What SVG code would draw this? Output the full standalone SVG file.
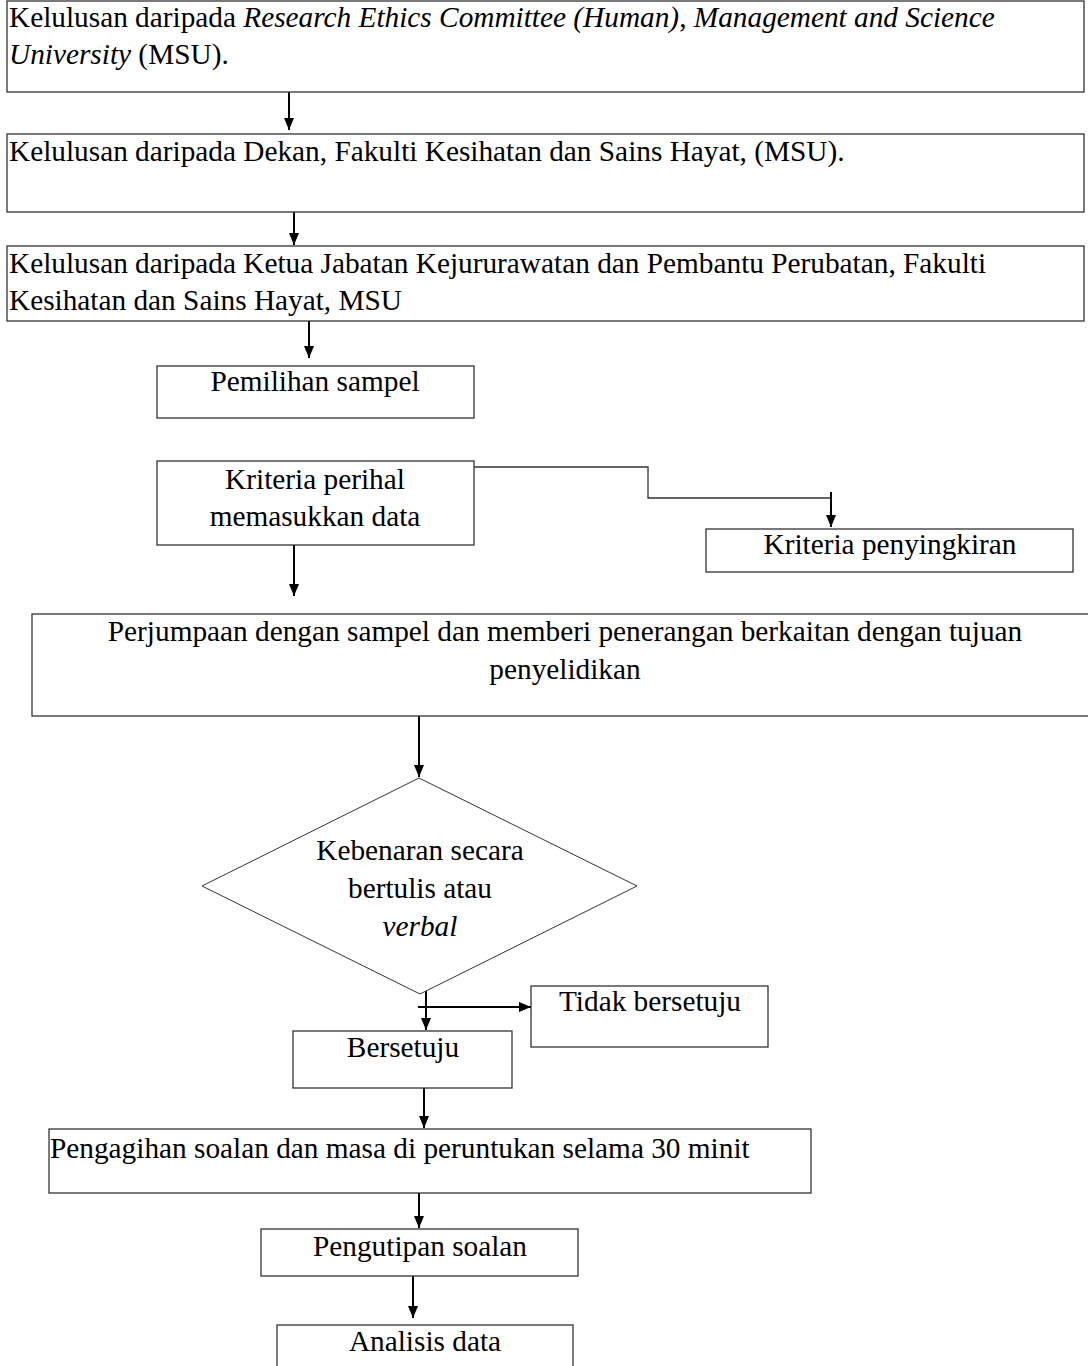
<svg xmlns="http://www.w3.org/2000/svg" width="1088" height="1366" viewBox="0 0 1088 1366">
<defs>
<marker id="ah" markerUnits="userSpaceOnUse" markerWidth="12" markerHeight="14" refX="12" refY="5" orient="auto">
<path d="M0,0 L12,5 L0,10 Z" fill="#000"/>
</marker>
<style>
.box{fill:#fff;stroke:#333;stroke-width:1.3}
.t{font-family:"Liberation Serif","Times New Roman",serif;font-size:29.3px;fill:#000}
.c{text-anchor:middle}
.i{font-style:italic}
.ln{fill:none;stroke:#000;stroke-width:2}
.thin{fill:none;stroke:#333;stroke-width:1.3}
</style>
</defs>
<rect width="1088" height="1366" fill="#fff"/>

<g id="connectors">
<line class="ln" x1="289" y1="92" x2="289" y2="130" marker-end="url(#ah)"/>
<line class="ln" x1="294" y1="207" x2="294" y2="245" marker-end="url(#ah)"/>
<line class="ln" x1="309" y1="321" x2="309" y2="358" marker-end="url(#ah)"/>
<polyline class="thin" points="468,467 648,467 648,498 831,498"/>
<line class="ln" x1="831" y1="492" x2="831" y2="527" marker-end="url(#ah)"/>
<line class="ln" x1="294" y1="545" x2="294" y2="596" marker-end="url(#ah)"/>
<line class="ln" x1="419" y1="716" x2="419" y2="777" marker-end="url(#ah)"/>
<line class="ln" x1="426" y1="982" x2="426" y2="1030" marker-end="url(#ah)"/>
<line class="ln" x1="418" y1="1007" x2="531" y2="1007" marker-end="url(#ah)"/>
<line class="ln" x1="424" y1="1088" x2="424" y2="1128" marker-end="url(#ah)"/>
<line class="ln" x1="419" y1="1193" x2="419" y2="1228" marker-end="url(#ah)"/>
<line class="ln" x1="413" y1="1276" x2="413" y2="1318" marker-end="url(#ah)"/>
</g>

<g id="n1">
<rect class="box" x="7" y="1" width="1077" height="91"/>
<text class="t" x="9" y="27">Kelulusan daripada <tspan class="i">Research Ethics Committee (Human)</tspan>, <tspan class="i">Management and Science</tspan></text>
<text class="t" x="9" y="64"><tspan class="i">University</tspan> (MSU).</text>
</g>

<g id="n2">
<rect class="box" x="7" y="134" width="1077" height="78"/>
<text class="t" x="9" y="161">Kelulusan daripada Dekan, Fakulti Kesihatan dan Sains Hayat, (MSU).</text>
</g>

<g id="n3">
<rect class="box" x="7" y="246" width="1077" height="75"/>
<text class="t" x="9" y="273">Kelulusan daripada Ketua Jabatan Kejururawatan dan Pembantu Perubatan, Fakulti</text>
<text class="t" x="9" y="310">Kesihatan dan Sains Hayat, MSU</text>
</g>

<g id="n4">
<rect class="box" x="157" y="366" width="317" height="52"/>
<text class="t c" x="315" y="391">Pemilihan sampel</text>
</g>

<g id="n5">
<rect class="box" x="157" y="461" width="317" height="84"/>
<text class="t c" x="315" y="489">Kriteria perihal</text>
<text class="t c" x="315" y="526">memasukkan data</text>
</g>

<g id="n6">
<rect class="box" x="706" y="529" width="367" height="43"/>
<text class="t c" x="890" y="554">Kriteria penyingkiran</text>
</g>

<g id="n7">
<rect class="box" x="32" y="614" width="1066" height="102"/>
<text class="t c" x="565" y="641">Perjumpaan dengan sampel dan memberi penerangan berkaitan dengan tujuan</text>
<text class="t c" x="565" y="679">penyelidikan</text>
</g>

<g id="n8">
<polygon class="box" points="419,778 637,886 420,994 202,886" style="stroke-width:1"/>
<text class="t c" x="420" y="860">Kebenaran secara</text>
<text class="t c" x="420" y="898">bertulis atau</text>
<text class="t c i" x="420" y="936">verbal</text>
</g>

<g id="n9">
<rect class="box" x="531" y="986" width="237" height="61"/>
<text class="t c" x="650" y="1011">Tidak bersetuju</text>
</g>

<g id="n10">
<rect class="box" x="293" y="1031" width="219" height="57"/>
<text class="t c" x="403" y="1057">Bersetuju</text>
</g>

<g id="n11">
<rect class="box" x="49" y="1129" width="762" height="64"/>
<text class="t" x="50" y="1158">Pengagihan soalan dan masa di peruntukan selama 30 minit</text>
</g>

<g id="n12">
<rect class="box" x="261" y="1229" width="317" height="47"/>
<text class="t c" x="420" y="1256">Pengutipan soalan</text>
</g>

<g id="n13">
<rect class="box" x="277" y="1325" width="296" height="50"/>
<text class="t c" x="425" y="1351">Analisis data</text>
</g>
</svg>
